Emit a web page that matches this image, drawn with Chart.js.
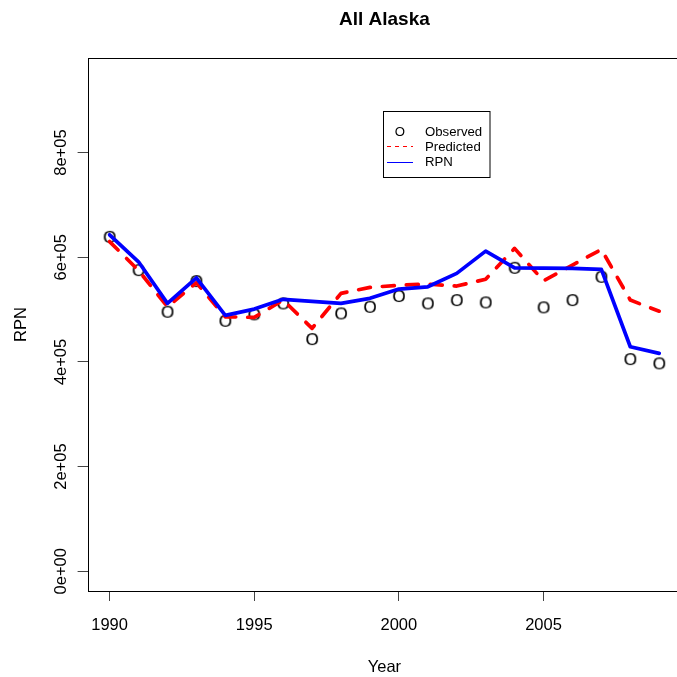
<!DOCTYPE html>
<html>
<head>
<meta charset="utf-8">
<script src="https://cdn.jsdelivr.net/npm/chart.js@4/dist/chart.umd.min.js"></script>
<style>
  html, body { margin: 0; padding: 0; background: #fff; overflow: hidden; }
  #wrap { width: 677px; height: 677px; overflow: hidden; }
  canvas { display: block; }
</style>
</head>
<body>
<div id="wrap"><canvas id="c" width="690" height="677"></canvas></div>
<script>
// Survey years
const years = [1990, 1991, 1992, 1993, 1994, 1995, 1996, 1997, 1998, 1999,
               2000, 2001, 2002, 2003, 2004, 2005, 2006, 2007, 2008, 2009];
// Observed RPN index
const observed = [639000, 575500, 496000, 554500, 478700, 490900, 511900, 443700, 492800, 505400,
                  525900, 511900, 518200, 513800, 579900, 504300, 518200, 562700, 405500, 397300];
// Model-predicted RPN
const predicted = [630000, 575000, 505400, 551300, 486300, 485200, 518200, 464200, 531000, 542500,
                   546500, 548800, 545000, 558000, 617000, 555000, 585000, 615000, 518200, 497000];
// RPN series
const rpn = [643000, 591400, 511900, 560800, 489000, 501000, 519600, 515700, 511900, 521500,
             539200, 543600, 569200, 611800, 579900, 579400, 578800, 576700, 429000, 416400];
// Axis ticks
const xTicks = [1990, 1995, 2000, 2005];
const yTicks = [0, 200000, 400000, 600000, 800000];

const FONT = '"Liberation Sans", Arial, Helvetica, sans-serif';

const pts = arr => arr.map((v, i) => ({ x: years[i], y: v }));

// the plotting symbol is the letter "O"
function letterMark(size) {
  const c = document.createElement('canvas');
  c.width = 24; c.height = 24;
  const g = c.getContext('2d');
  g.fillStyle = '#000';
  g.strokeStyle = '#000';
  g.lineWidth = 0.2;
  g.font = size + 'px ' + FONT;
  g.textAlign = 'center';
  g.textBaseline = 'alphabetic';
  g.fillText('O', 12, 12 + size * 0.716 / 2);
  g.strokeText('O', 12, 12 + size * 0.716 / 2);
  return c;
}
const mark = letterMark(17);

const decorations = {
  id: 'decorations',
  afterDraw(chart) {
    const { ctx, chartArea: a } = chart;
    ctx.save();
    // plot frame
    ctx.strokeStyle = '#000';
    ctx.lineWidth = 1;
    ctx.strokeRect(Math.round(a.left) + 0.5, Math.round(a.top) + 0.5,
                   Math.round(a.right - a.left), Math.round(a.bottom - a.top));
    const cx = (a.left + a.right) / 2;
    ctx.fillStyle = '#000';
    ctx.textAlign = 'center';
    ctx.textBaseline = 'alphabetic';
    ctx.font = 'bold 19px ' + FONT;
    ctx.fillText('All Alaska', cx, 25);
    ctx.font = '16.5px ' + FONT;
    ctx.fillText('Year', cx, 671.5);
    ctx.save();
    ctx.translate(26, (a.top + a.bottom) / 2);
    ctx.rotate(-Math.PI / 2);
    ctx.fillText('RPN', 0, 0);
    ctx.restore();

    // legend
    const lx = 383.5, ly = 111.5, lw = 106.5, lh = 66;
    ctx.fillStyle = '#fff';
    ctx.fillRect(lx, ly, lw, lh);
    ctx.strokeStyle = '#000';
    ctx.lineWidth = 1;
    ctx.strokeRect(lx, ly, lw, lh);
    const ds = chart.data.datasets;
    const rows = [ds[2], ds[1], ds[0]];
    ctx.font = '13.2px ' + FONT;
    ctx.textAlign = 'left';
    rows.forEach((d, i) => {
      const yc = 131 + i * 15.3;
      ctx.fillStyle = '#000';
      ctx.fillText(d.label, 425, yc + 4.7);
      if (d.showLine === false) {
        ctx.textAlign = 'center';
        ctx.fillText('O', 400, yc + 4.7);
        ctx.textAlign = 'left';
      } else {
        ctx.strokeStyle = d.borderColor;
        ctx.lineWidth = 1;
        ctx.setLineDash(d.borderDash && d.borderDash.length ? [4, 4] : []);
        ctx.beginPath();
        ctx.moveTo(387, Math.round(yc) + 0.5);
        ctx.lineTo(413, Math.round(yc) + 0.5);
        ctx.stroke();
        ctx.setLineDash([]);
      }
    });
    ctx.restore();
  }
};

new Chart(document.getElementById('c'), {
  type: 'scatter',
  data: {
    datasets: [
      {
        label: 'RPN',
        data: pts(rpn),
        showLine: true,
        borderColor: '#0000ff',
        borderWidth: 3.7,
        borderCapStyle: 'round',
        borderJoinStyle: 'round',
        pointRadius: 0,
        tension: 0,
        order: 0
      },
      {
        label: 'Predicted',
        data: pts(predicted),
        showLine: true,
        borderColor: '#ff0000',
        borderWidth: 3.7,
        borderDash: [12, 12],
        borderCapStyle: 'round',
        borderJoinStyle: 'round',
        pointRadius: 0,
        tension: 0,
        order: 1
      },
      {
        label: 'Observed',
        data: pts(observed),
        showLine: false,
        pointStyle: mark,
        pointRadius: 6,
        order: 2
      }
    ]
  },
  options: {
    responsive: false,
    animation: false,
    events: [],
    layout: { padding: { top: 58, right: 8.8, left: 0, bottom: 0 } },
    plugins: { legend: { display: false }, title: { display: false }, tooltip: { enabled: false } },
    scales: {
      x: {
        type: 'linear',
        min: 1989.24,
        max: 2009.76,
        afterFit(s) { s.height = 86; },
        afterBuildTicks(s) { s.ticks = xTicks.map(v => ({ value: v })); },
        border: { display: false },
        grid: { drawOnChartArea: false, drawTicks: true, tickLength: 10, color: '#444' },
        ticks: {
          color: '#000',
          font: { family: FONT, size: 16.5 },
          padding: 15,
          maxRotation: 0,
          minRotation: 0,
          callback: v => String(v)
        }
      },
      y: {
        type: 'linear',
        min: -37700,
        max: 980800,
        afterFit(s) { s.width = 87.6; },
        afterBuildTicks(s) { s.ticks = yTicks.map(v => ({ value: v })); },
        border: { display: false },
        grid: { drawOnChartArea: false, drawTicks: true, tickLength: 10, color: '#444' },
        ticks: {
          color: '#000',
          font: { family: FONT, size: 16.5 },
          minRotation: 90,
          maxRotation: 90,
          crossAlign: 'center',
          padding: -7.3,
          callback: v => {
            if (v === 0) return '0e+00';
            const e = Math.floor(Math.log10(Math.abs(v)));
            const m = Math.round(v / Math.pow(10, e));
            return m + 'e+' + String(e).padStart(2, '0');
          }
        }
      }
    }
  },
  plugins: [decorations]
});
</script>
</body>
</html>
